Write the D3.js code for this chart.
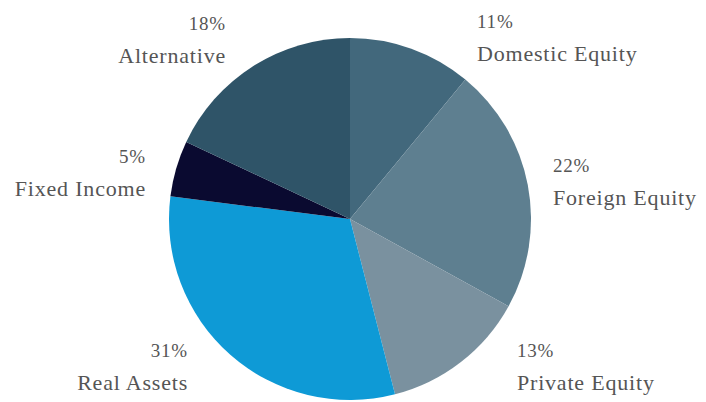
<!DOCTYPE html>
<html>
<head>
<meta charset="utf-8">
<script src="https://cdn.jsdelivr.net/npm/d3@7"></script>
<style>
  body { margin: 0; background: #fff; }
  svg { display: block; }
</style>
</head>
<body>
<div id="chart"></div>
<script>
// data (clockwise from 12 o'clock)
var categories = ["Domestic Equity", "Foreign Equity", "Private Equity", "Real Assets", "Fixed Income", "Alternative"];
var shares = [11, 22, 13, 31, 5, 18];
var colors = ["#42687c", "#5e7f90", "#7a919f", "#0e9ad6", "#0a0a30", "#2f5468"];

// label placement relative to pie centre: [dx, dy of the % line, anchor]
var labelPos = [
  [127, -191, "start"],
  [203, -47, "start"],
  [167, 138, "start"],
  [-162, 138, "end"],
  [-204, -56, "end"],
  [-124, -189, "end"]
];

var width = 706, height = 402;
var cx = 350, cy = 219, radius = 181;

var data = categories.map(function(c, i) { return {name: c, value: shares[i], i: i}; });

var svg = d3.select("#chart").append("svg")
  .attr("width", width)
  .attr("height", height);

var g = svg.append("g")
  .attr("transform", "translate(" + cx + "," + cy + ")");

var color = d3.scaleOrdinal().domain(categories).range(colors);

var pie = d3.pie()
  .sort(null)
  .value(function(d) { return d.value; });

var arc = d3.arc().innerRadius(0).outerRadius(radius);

g.selectAll("path.slice")
  .data(pie(data))
  .enter()
  .append("path")
    .attr("class", "slice")
    .attr("d", arc)
    .style("fill", function(d) { return color(d.data.name); });

// labels
var labels = g.selectAll("g.label")
  .data(data)
  .enter()
  .append("g")
    .attr("class", "label")
    .attr("transform", function(d) { return "translate(" + labelPos[d.i][0] + "," + labelPos[d.i][1] + ")"; })
    .style("font-family", "'Liberation Serif', 'DejaVu Serif', serif")
    .style("letter-spacing", "0.8px")
    .style("fill", "#555");

// percent line (old-style figures in the original look smaller)
labels.append("text")
  .attr("text-anchor", function(d) { return labelPos[d.i][2]; })
  .style("font-size", "19px")
  .text(function(d) { return d.value + "%"; });

labels.append("text")
  .attr("text-anchor", function(d) { return labelPos[d.i][2]; })
  .attr("y", 33)
  .style("font-size", "22px")
  .text(function(d) { return d.name; });
</script>
</body>
</html>
